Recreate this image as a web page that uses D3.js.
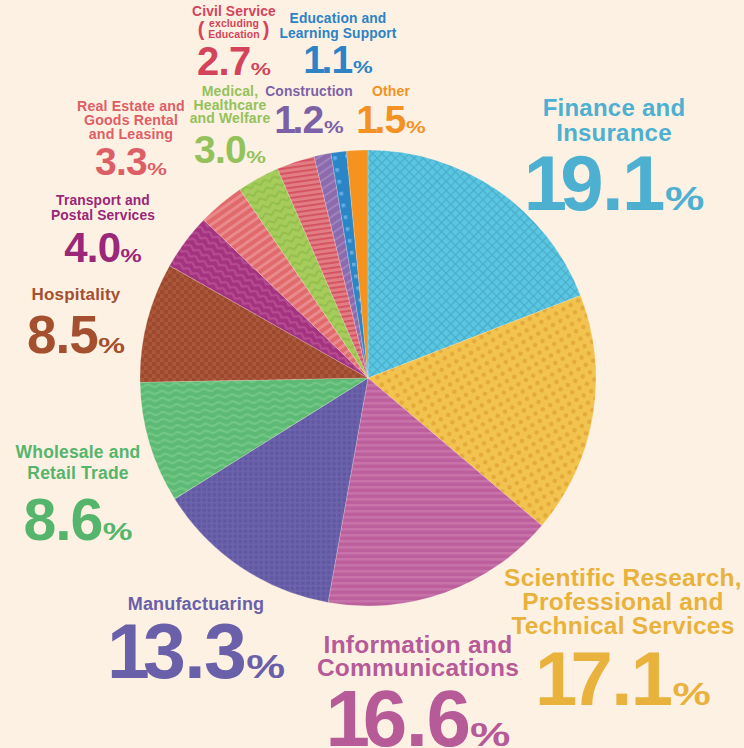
<!DOCTYPE html>
<html>
<head>
<meta charset="utf-8">
<script src="https://cdn.jsdelivr.net/npm/d3@7"></script>
<style>
  html, body { margin: 0; padding: 0; background: #fdf1e4; }
  svg { display: block; }
  text { font-family: "Liberation Sans", Arial, sans-serif; font-weight: bold; }
</style>
</head>
<body>
<svg id="chart" width="744" height="748"></svg>
<script>
// shares by industry, clockwise from 12 o'clock
const categories = [
  'Finance and Insurance',
  'Scientific Research, Professional and Technical Services',
  'Information and Communications',
  'Manufactuaring',
  'Wholesale and Retail Trade',
  'Hospitality',
  'Transport and Postal Services',
  'Real Estate and Goods Rental and Leasing',
  'Medical, Healthcare and Welfare',
  'Civil Service (excluding Education)',
  'Construction',
  'Education and Learning Support',
  'Other'
];
const values = [19.1, 17.1, 16.6, 13.3, 8.6, 8.5, 4.0, 3.3, 3.0, 2.7, 1.2, 1.1, 1.5];
const labelLines = [
  ['Finance and', 'Insurance'],
  ['Scientific Research,', 'Professional and', 'Technical Services'],
  ['Information and', 'Communications'],
  ['Manufactuaring'],
  ['Wholesale and', 'Retail Trade'],
  ['Hospitality'],
  ['Transport and', 'Postal Services'],
  ['Real Estate and', 'Goods Rental', 'and Leasing'],
  ['Medical,', 'Healthcare', 'and Welfare'],
  ['Civil Service', 'excluding', 'Education'],
  ['Construction'],
  ['Education and', 'Learning Support'],
  ['Other']
];

// slice fill / pattern ink / label colour
const sliceColors = ['#5ac6e1', '#f2c44f', '#bd5f9c', '#6e64ae', '#5dba74', '#ab573a', '#a3327f',
  '#e06a6c', '#a6cd5b', '#e27d83', '#8c6aae', '#2b86c8', '#f6931f'];
const inkColors = ['#49adca', '#e5a93c', '#c872aa', '#6158a3', '#74c888', '#9c4930', '#b64c93',
  '#ea8a8d', '#92be4e', '#d2505f', '#a083bd', '#6aaedf', '#f6931f'];
const textColors = ['#4db0d0', '#e9b23c', '#b65a98', '#6a60a9', '#55b56c', '#a4502f', '#9a2777',
  '#dd5f66', '#94c25a', '#d3445b', '#7c61a6', '#2c83c5', '#f39222'];

// label placement: x centre, first label baseline, label size, line gap, number baseline, number size
const layout = [
  { x: 614, y: 116, ls: 24, lh: 25, ny: 210, ns: 78 },
  { x: 623, y: 586, ls: 24.5, lh: 24, ny: 705, ns: 76 },
  { x: 418, y: 653, ls: 24.5, lh: 23, ny: 746, ns: 80 },
  { x: 196, y: 610, ls: 18, lh: 0, ny: 678, ns: 77 },
  { x: 78, y: 458, ls: 17.5, lh: 21, ny: 540, ns: 59 },
  { x: 76, y: 300, ls: 17, lh: 0, ny: 353, ns: 53 },
  { x: 103, y: 205, ls: 13.8, lh: 15, ny: 262, ns: 42 },
  { x: 131, y: 111, ls: 14.2, lh: 14, ny: 175, ns: 39 },
  { x: 230, y: 96, ls: 14, lh: 13.5, ny: 163, ns: 39 },
  { x: 234, y: 16, ls: 13.8, lh: 11, ny: 75, ns: 40 },
  { x: 309, y: 96, ls: 13.8, lh: 0, ny: 133, ns: 39 },
  { x: 338, y: 23, ls: 13.8, lh: 15, ny: 73, ns: 39 },
  { x: 391, y: 96, ls: 14, lh: 0, ny: 133, ns: 39 }
];

const svg = d3.select('#chart');
const cx = 368, cy = 378, radius = 228;

const defs = svg.append('defs');

function addPattern(i, w, h, rot, draw) {
  const p = defs.append('pattern')
    .attr('id', 'pat' + i)
    .attr('patternUnits', 'userSpaceOnUse')
    .attr('width', w).attr('height', h)
    .attr('patternTransform', rot ? `rotate(${rot})` : null);
  p.append('rect').attr('width', w).attr('height', h).attr('fill', sliceColors[i]);
  draw(p, inkColors[i]);
}

// finance: diamond lattice
addPattern(0, 6.5, 6.5, 45, (p, c) => {
  p.append('path').attr('d', 'M0,0H6.5M0,0V6.5').attr('stroke', c).attr('stroke-width', 2.4).attr('fill', 'none');
});
// scientific: staggered dots
addPattern(1, 12, 12, 15, (p, c) => {
  [[3, 3], [9, 9]].forEach(d => p.append('circle').attr('cx', d[0]).attr('cy', d[1]).attr('r', 2.3).attr('fill', c));
});
// information: horizontal stripes
addPattern(2, 6, 6, 0, (p, c) => {
  p.append('rect').attr('y', 0).attr('width', 6).attr('height', 2.6).attr('fill', c);
});
// manufacturing: little squares
addPattern(3, 5.2, 5.2, 0, (p, c) => {
  p.append('rect').attr('x', 0.6).attr('y', 0.6).attr('width', 3.6).attr('height', 3.6).attr('fill', c);
});
// wholesale: waves
addPattern(4, 14, 7, -3, (p, c) => {
  p.append('path').attr('d', 'M0,3.5 Q3.5,0.8 7,3.5 T14,3.5').attr('stroke', c).attr('stroke-width', 2.2).attr('fill', 'none');
});
// hospitality: dots
addPattern(5, 8, 8, 0, (p, c) => {
  [[2, 2], [6, 6]].forEach(d => p.append('circle').attr('cx', d[0]).attr('cy', d[1]).attr('r', 2.4).attr('fill', c));
});
// transport: chevrons
addPattern(6, 10, 7, 30, (p, c) => {
  p.append('path').attr('d', 'M0,1.5 L5,5 L10,1.5').attr('stroke', c).attr('stroke-width', 2.2).attr('fill', 'none');
});
// real estate: diagonal stripes
addPattern(7, 7, 7, -35, (p, c) => {
  p.append('rect').attr('width', 7).attr('height', 3).attr('fill', c);
});
// medical: zigzag
addPattern(8, 10, 8, -20, (p, c) => {
  p.append('path').attr('d', 'M0,2 L5,6 L10,2').attr('stroke', c).attr('stroke-width', 1.8).attr('fill', 'none');
});
// civil service: fine horizontal stripes
addPattern(9, 5, 5, -8, (p, c) => {
  p.append('rect').attr('width', 5).attr('height', 1.8).attr('fill', c);
});
// construction: diagonal stripes
addPattern(10, 7, 7, -35, (p, c) => {
  p.append('rect').attr('width', 7).attr('height', 2).attr('fill', c);
});
// education: small squares
addPattern(11, 12, 12, -10, (p, c) => {
  p.append('rect').attr('x', 4).attr('y', 4).attr('width', 3.5).attr('height', 3.5).attr('fill', c);
});
// other: plain
addPattern(12, 4, 4, 0, () => {});

const pie = d3.pie().sort(null).value(d => d);
const arc = d3.arc().innerRadius(0).outerRadius(radius);

const g = svg.append('g').attr('transform', `translate(${cx},${cy})`);
g.selectAll('path.slice').data(pie(values))
  .enter().append('path')
    .attr('class', 'slice')
    .attr('d', arc)
    .attr('fill', (d, i) => `url(#pat${i})`)
    .attr('stroke', '#fdf1e4')
    .attr('stroke-opacity', 0.35)
    .attr('stroke-width', 0.6);

// labels
const labels = svg.selectAll('g.label').data(categories)
  .enter().append('g')
    .attr('class', 'label')
    .attr('fill', (d, i) => textColors[i]);

labels.each(function (d, i) {
  const L = layout[i];
  const el = d3.select(this);
  labelLines[i].forEach((line, j) => {
    const small = i === 9 && j > 0;
    el.append('text')
      .attr('x', L.x)
      .attr('y', L.y + j * L.lh)
      .attr('text-anchor', 'middle')
      .attr('font-size', small ? 10.5 : L.ls)
      .attr('letter-spacing', '0.01em')
      .text(line);
  });
  if (i === 9) {
    el.append('text').attr('x', 201).attr('y', 36).attr('font-size', 20).attr('font-weight', 'normal')
      .attr('text-anchor', 'middle').text('(');
    el.append('text').attr('x', 266).attr('y', 36).attr('font-size', 20).attr('font-weight', 'normal')
      .attr('text-anchor', 'middle').text(')');
  }

  // big number, the "1"s sit tighter; the % sign is small and wide
  const num = el.append('text')
    .attr('x', 0)
    .attr('y', L.ny)
    .attr('font-size', L.ns)
    .attr('letter-spacing', '-0.02em');
  const chars = d3.format('.1f')(values[i]).split('');
  chars.forEach((ch, k) => {
    num.append('tspan')
      .attr('dx', k > 0 && chars[k - 1] === '1' ? -L.ns * 0.07 : (k === 0 && ch === '1' ? -L.ns * 0.06 : 0))
      .text(ch);
  });
  const pctScale = 1.35;
  const pct = el.append('text')
    .attr('font-size', L.ns * 0.42)
    .text('%');
  const bb = num.node().getBBox();
  const nw = bb.width - L.ns * 0.02;
  const pw = pct.node().getComputedTextLength() * pctScale;
  const gap = L.ns * 0.03;
  const left = L.x - (nw + gap + pw) / 2;
  num.attr('x', left - bb.x);
  pct.attr('transform', `translate(${left + nw + gap},${L.ny}) scale(${pctScale},1)`);
});
</script>
</body>
</html>
